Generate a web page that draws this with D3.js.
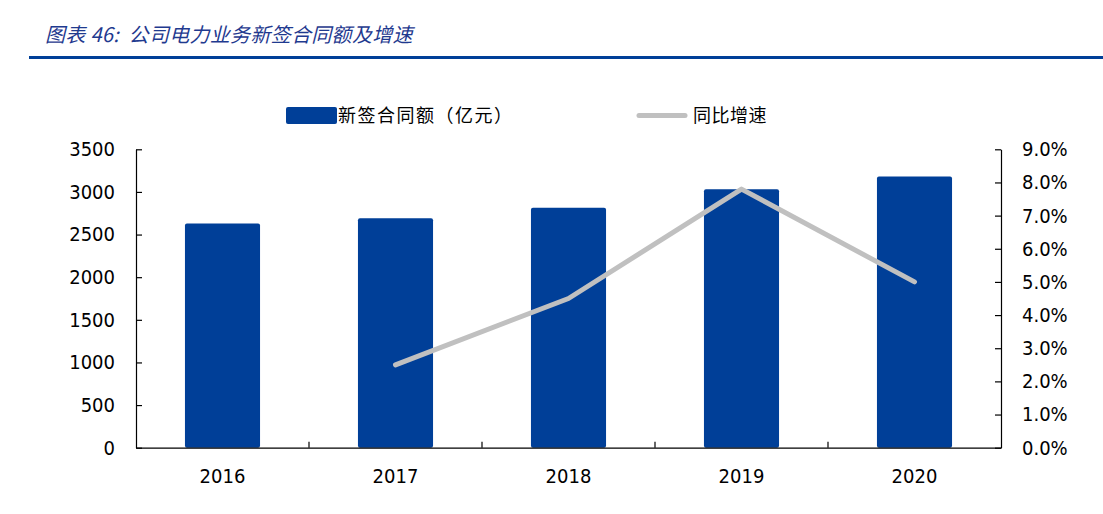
<!DOCTYPE html>
<html>
<head>
<meta charset="utf-8">
<script src="https://cdn.jsdelivr.net/npm/d3@7"></script>
<style>
  body { margin: 0; background: #fff; }
  svg { display: block; }
  .tick text { font-family: "DejaVu Sans Condensed", "DejaVu Sans", sans-serif; font-size: 20px; fill: #000; }
  .domain, .tick line { stroke: #000; stroke-width: 1.2px; }
</style>
</head>
<body>
<div id="chart"></div>
<script>
// chart data
var years = ["2016", "2017", "2018", "2019", "2020"];
var contractValues = [2630, 2690, 2815, 3030, 3180];        // 新签合同额（亿元）
var growthYears = ["2017", "2018", "2019", "2020"];
var growthRates = [2.5, 4.5, 7.8, 5.0];                        // 同比增速 %
var leftTicks = [0, 500, 1000, 1500, 2000, 2500, 3000, 3500];
var rightTicks = [0, 1, 2, 3, 4, 5, 6, 7, 8, 9];

var titleText = "图表 46:  公司电力业务新签合同额及增速";
var barLabel = "新签合同额（亿元）";
var lineLabel = "同比增速";

function init() {
  var w = 1103;
  var h = 514;
  var left = 136, right = 1001, top = 149.3, bottom = 447.7;
  var blue = "#003f98";
  var grey = "#c0c0c0";

  var svg = d3.select("#chart")
    .append("svg")
    .attr("width", w)
    .attr("height", h);

  // title + rule
  svg.append("text")
    .attr("x", 45)
    .attr("y", 42)
    .attr("font-family", "'Noto Sans CJK SC', sans-serif")
    .attr("font-size", 20)
    .attr("font-style", "italic")
    .attr("letter-spacing", 0.3)
    .attr("fill", "#1f3a8f")
    .attr("xml:space", "preserve")
    .text(titleText);

  svg.append("rect")
    .attr("x", 29)
    .attr("y", 56)
    .attr("width", w - 29)
    .attr("height", 3)
    .attr("fill", blue);

  var xScale = d3.scaleBand()
    .domain(years)
    .range([left, right])
    .paddingInner(0.566)
    .paddingOuter(0.283);

  var yLeft = d3.scaleLinear()
    .domain([0, 3500])
    .range([bottom, top]);

  var yRight = d3.scaleLinear()
    .domain([0, 9])
    .range([bottom, top]);

  // bars
  svg.selectAll("rect.bar")
    .data(years)
    .enter()
    .append("rect")
    .attr("class", "bar")
    .attr("x", d => xScale(d))
    .attr("y", (d, i) => yLeft(contractValues[i]))
    .attr("width", xScale.bandwidth())
    .attr("height", (d, i) => bottom - yLeft(contractValues[i]))
    .attr("rx", 2)
    .attr("fill", blue);

  // growth line
  var line = d3.line()
    .x((d, i) => xScale(growthYears[i]) + xScale.bandwidth() / 2)
    .y(d => yRight(d));

  svg.append("path")
    .datum(growthRates)
    .attr("fill", "none")
    .attr("stroke", grey)
    .attr("stroke-width", 5)
    .attr("stroke-linecap", "round")
    .attr("stroke-linejoin", "round")
    .attr("d", line);

  // left axis
  var yAxisLeft = d3.axisLeft(yLeft)
    .tickValues(leftTicks)
    .tickFormat(d3.format("d"))
    .tickSizeInner(-6)
    .tickSizeOuter(0)
    .tickPadding(21);

  svg.append("g")
    .attr("transform", `translate(${left},0)`)
    .call(yAxisLeft);

  // right axis
  var yAxisRight = d3.axisRight(yRight)
    .tickValues(rightTicks)
    .tickFormat(d => d3.format(".1f")(d) + "%")
    .tickSizeInner(-6)
    .tickSizeOuter(0)
    .tickPadding(21);

  svg.append("g")
    .attr("transform", `translate(${right},0)`)
    .call(yAxisRight);

  // x axis
  var xAxis = d3.axisBottom(xScale)
    .tickSize(0)
    .tickSizeOuter(0)
    .tickPadding(21);

  var gx = svg.append("g")
    .attr("transform", `translate(0,${bottom})`)
    .call(xAxis);

  // category separators (inside ticks)
  var half = xScale.step() * xScale.paddingInner() / 2;
  gx.selectAll("line.sep")
    .data(years.slice(1))
    .enter()
    .append("line")
    .attr("class", "sep")
    .attr("x1", d => xScale(d) - half)
    .attr("x2", d => xScale(d) - half)
    .attr("y1", 0)
    .attr("y2", -6)
    .attr("stroke", "#000")
    .attr("stroke-width", 1.2);

  // legend
  var lg = svg.append("g")
    .attr("font-family", "'Noto Sans CJK SC', sans-serif")
    .attr("font-size", 18)
    .attr("fill", "#000");

  lg.append("rect")
    .attr("x", 286)
    .attr("y", 107)
    .attr("width", 51)
    .attr("height", 17)
    .attr("rx", 2)
    .attr("fill", blue);

  lg.append("text")
    .attr("x", 338)
    .attr("y", 121.5)
    .attr("letter-spacing", 1.5)
    .text(barLabel);

  lg.append("line")
    .attr("x1", 639)
    .attr("x2", 685)
    .attr("y1", 115.5)
    .attr("y2", 115.5)
    .attr("stroke", grey)
    .attr("stroke-width", 5)
    .attr("stroke-linecap", "round");

  lg.append("text")
    .attr("x", 693)
    .attr("y", 121.5)
    .attr("letter-spacing", 0.5)
    .text(lineLabel);
}

window.onload = init;
</script>
</body>
</html>
